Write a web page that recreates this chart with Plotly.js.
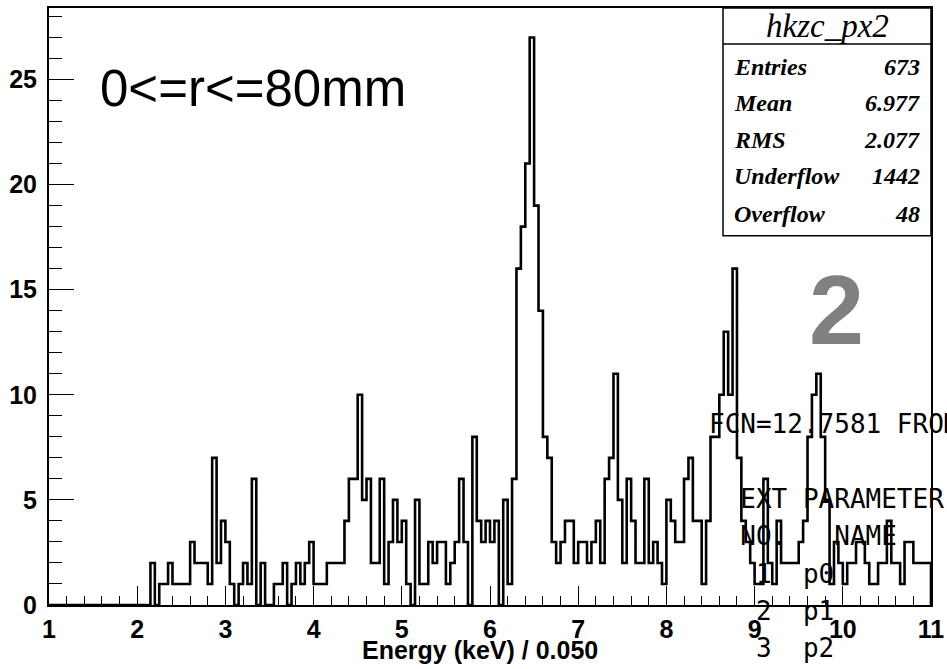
<!DOCTYPE html>
<html>
<head>
<meta charset="utf-8">
<script src="https://cdn.plot.ly/plotly-3.0.1.min.js"></script>
<style>html,body{margin:0;padding:0;background:#fff;}#chart{width:947px;height:669px;}</style>
</head>
<body>
<div id="chart"></div>
<script>
// ---- data (counts per 0.050 keV bin, from 1 to 11 keV) ----
const binLow = 1.0;
const binWidth = 0.05;
const counts = [
  0,0,0,0,0,0,0,0,0,0, 0,0,0,0,0,0,0,0,0,0,
  0,0,0,2,0,1,1,2,1,1, 1,1,3,2,2,2,1,7,2,4,
  3,1,0,1,2,1,6,0,2,0, 0,1,1,2,0,1,2,1,2,3,
  1,1,1,2,2,2,2,4,6,6, 10,5,6,2,2,6,1,3,5,3,
  4,1,0,5,1,1,3,2,3,3, 1,2,3,6,3,0,8,4,3,4,
  3,4,0,5,1,6,16,18,21,27, 19,14,8,7,3,2,3,4,4,2,
  3,3,2,3,4,2,6,7,11,5, 2,6,4,2,2,6,2,3,2,1,
  5,4,3,3,6,7,4,4,1,4, 8,8,10,13,10,16,7,4,3,2,
  1,1,6,2,1,4,2,2,2,2, 3,4,8,10,11,8,5,1,3,2,
  1,2,2,3,3,2,1,1,2,2, 4,2,2,1,3,3,2,2,2,2
];
const xTicks = [1,2,3,4,5,6,7,8,9,10,11];
const histTitle = "hkzc_px2";
const statLabels = ["Entries","Mean","RMS","Underflow","Overflow"];
const statValues = ["673","6.977","2.077","1442","48"];
const fitLines = [
  "FCN=12.7581 FROM MIGRAD",
  "",
  "\u00a0\u00a0EXT PARAMETER",
  "\u00a0\u00a0NO.\u00a0\u00a0\u00a0NAME",
  "\u00a0\u00a0\u00a01\u00a0\u00a0p0",
  "\u00a0\u00a0\u00a02\u00a0\u00a0p1",
  "\u00a0\u00a0\u00a03\u00a0\u00a0p2"
];

// ---- step outline built from the bins ----
const xs = [binLow], ys = [0];
counts.forEach((c, i) => {
  const lo = binLow + i * binWidth;
  xs.push(lo, lo + binWidth);
  ys.push(c, c);
});
xs.push(binLow + counts.length * binWidth); ys.push(0);

// ---- pixel helpers for decorations ----
const L = 49, R = 931, T = 8, B = 605.5;
const px = x => (x - L) / (R - L);
const py = y => (B - y) / (B - T);

const sans = "Liberation Sans, Arial, sans-serif";
const serif = "Liberation Serif, Times New Roman, serif";
const mono = "DejaVu Sans Mono, monospace";

const annotations = [];
annotations.push({xref:'paper', yref:'paper', x:px(98), y:py(89), xanchor:'left', yanchor:'middle',
  text:"0<=r<=80mm", showarrow:false, font:{family:sans, size:51, color:'#000'}});
annotations.push({xref:'paper', yref:'paper', x:px(836), y:py(310), xanchor:'center', yanchor:'middle',
  text:"2", showarrow:false, font:{family:sans, size:99, color:'#808080', weight:'bold'}});
// stats box
annotations.push({xref:'paper', yref:'paper', x:px(827.5), y:py(26), xanchor:'center', yanchor:'middle',
  text:histTitle, showarrow:false, font:{family:serif, size:33, color:'#000', style:'italic'}});
const rowY = [67, 103, 140, 176, 214];
statLabels.forEach((lab, k) => {
  annotations.push({xref:'paper', yref:'paper', x:px(732), y:py(rowY[k]), xanchor:'left', yanchor:'middle',
    text:lab, showarrow:false, font:{family:serif, size:24, color:'#000', style:'italic', weight:'bold'}});
  annotations.push({xref:'paper', yref:'paper', x:px(922), y:py(rowY[k]), xanchor:'right', yanchor:'middle',
    text:statValues[k], showarrow:false, font:{family:serif, size:24, color:'#000', style:'italic', weight:'bold'}});
});
// fit printout
fitLines.forEach((t, k) => {
  if (!t) return;
  annotations.push({xref:'paper', yref:'paper', x:px(707), y:py(424 + k * 37.5), xanchor:'left', yanchor:'middle',
    text:t, showarrow:false, font:{family:mono, size:26, color:'#000'}});
});
// x axis title
annotations.push({xref:'paper', yref:'paper', x:px(480), y:py(651), xanchor:'center', yanchor:'middle',
  text:"Energy (keV) / 0.050", showarrow:false, font:{family:sans, size:25, color:'#000', weight:'bold'}});

const shapes = [
  {type:'rect', xref:'paper', yref:'paper', x0:px(723), x1:px(931), y0:py(236), y1:py(8),
   line:{color:'#000', width:1.5}, fillcolor:'#fff', layer:'above'},
  {type:'line', xref:'paper', yref:'paper', x0:px(723), x1:px(931), y0:py(44), y1:py(44),
   line:{color:'#000', width:1.5}, layer:'above'}
];

const trace = {
  type:'scatter', mode:'lines', x:xs, y:ys,
  line:{color:'#000', width:2.6, shape:'linear'}, hoverinfo:'skip'
};

const layout = {
  width:947, height:669,
  margin:{l:L, r:947 - R, t:T, b:669 - B},
  paper_bgcolor:'#fff', plot_bgcolor:'#fff',
  showlegend:false,
  xaxis:{range:[1, 11], tickvals:xTicks, ticks:'inside', ticklen:19, tickwidth:1, tickcolor:'#000',
    minor:{dtick:0.2, ticks:'inside', ticklen:9, tickwidth:1, tickcolor:'#000'},
    showline:true, linewidth:2, linecolor:'#000', mirror:true, showgrid:false, zeroline:false,
    tickfont:{family:sans, size:25, color:'#000', weight:'bold'}, ticklabelstandoff:1},
  yaxis:{range:[0, 28.4], tick0:0, dtick:5, ticks:'inside', ticklen:25, tickwidth:1, tickcolor:'#000',
    minor:{dtick:1, ticks:'inside', ticklen:13, tickwidth:1, tickcolor:'#000'},
    showline:true, linewidth:2, linecolor:'#000', mirror:true, showgrid:false, zeroline:false,
    tickfont:{family:sans, size:25, color:'#000', weight:'bold'}, ticklabelstandoff:5},
  annotations:annotations,
  shapes:shapes
};

Plotly.newPlot('chart', [trace], layout, {staticPlot:true, displayModeBar:false});
</script>
</body>
</html>
